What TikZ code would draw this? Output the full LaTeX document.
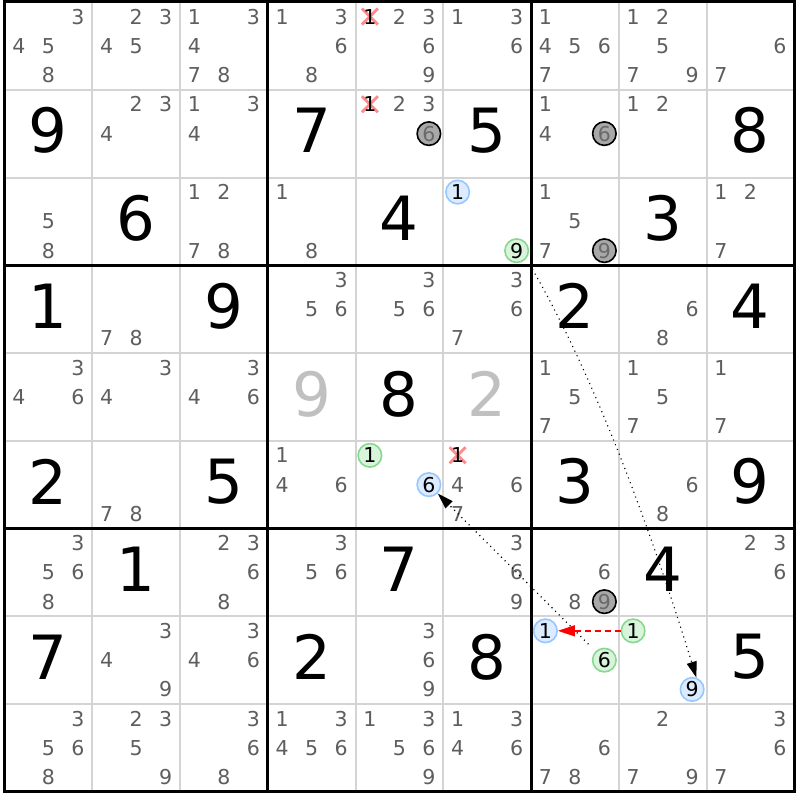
\documentclass[tikz,border=0pt]{standalone}
\usepackage{fontspec}
\setmainfont{DejaVu Sans}
\usetikzlibrary{arrows.meta}
\definecolor{candgray}{HTML}{5E5E5E}
\definecolor{thingray}{HTML}{D4D4D4}
\definecolor{lightdig}{HTML}{C0C0C0}
\definecolor{xred}{HTML}{FF8A8A}
\definecolor{bfill}{HTML}{DCEBFF}
\definecolor{bdraw}{HTML}{95C8FF}
\definecolor{gfill}{HTML}{D8F5DB}
\definecolor{gdraw}{HTML}{88D890}
\definecolor{kfill}{HTML}{A8A8A8}
\definecolor{kdig}{HTML}{6A6A6A}
\newcommand\cpos[3]{\pgfmathsetmacro\px{4.5+87.75*#2+43.875+(mod(#3-1,3)-1)*29.5}\pgfmathsetmacro\py{2+87.75*#1+43.875+(int((#3-1)/3)-1)*29.3}}
\newcommand\cands[3]{\foreach \k in {#3}{\cpos{#1}{#2}{\k}\node[cand] (k#1#2\k) at (\px,\py) {\k};}}
\newcommand\bigd[4][black]{\pgfmathsetmacro\px{4.5+87.75*#3+43.875}\pgfmathsetmacro\py{2+87.75*#2+43.875-3}\node[bigdig,text=#1] (d#2#3) at (\px,\py) {#4};}
\newcommand\xcand[3]{\cpos{#1}{#2}{#3}\draw[xmark] (\px-8,\py-8) -- (\px+8,\py+8) (\px-8,\py+8) -- (\px+8,\py-8);\node[cand,text=black] (x#1#2) at (\px,\py) {#3};}
\newcommand\circd[5]{\cpos{#2}{#3}{#4}\node[#1] (#5) at (\px,\py) {#4};}
\begin{document}
\begin{tikzpicture}[x=1pt,y=-1pt,
  cand/.style={font=\fontsize{20.5}{20.5}\selectfont, text=candgray, inner sep=0pt},
  bigdig/.style={font=\fontsize{61}{61}\selectfont, inner sep=0pt},
  circ/.style={circle, minimum size=23.5pt, inner sep=0pt, line width=1.6pt, font=\fontsize{20.5}{20.5}\selectfont},
  bluec/.style={circ, fill=bfill, draw=bdraw, text=black},
  greenc/.style={circ, fill=gfill, draw=gdraw, text=black},
  grayc/.style={circ, fill=kfill, draw=black, text=kdig},
  xmark/.style={draw=xred, line width=2.8pt},
  thinline/.style={draw=thingray, line width=2pt},
  thickline/.style={draw=black, line width=3pt},
  dotlink/.style={black, line width=1.1pt, dash pattern=on 1.1pt off 4pt, -{Triangle[length=16pt,width=10pt]}},
  redlink/.style={red, line width=1.4pt, dash pattern=on 6pt off 4pt, -{Triangle[length=17pt,width=11pt]}}]
\useasboundingbox (0,0) rectangle (800,800);
\fill[white] (0,0) rectangle (800,800);
\foreach \i in {1,2,4,5,7,8}{
  \draw[thinline] (4.5+87.75*\i,2) -- (4.5+87.75*\i,791.75);
  \draw[thinline] (4.5,2+87.75*\i) -- (794.25,2+87.75*\i);
}
\foreach \i in {3,6}{
  \draw[thickline] (4.5+87.75*\i,2) -- (4.5+87.75*\i,791.75);
  \draw[thickline] (4.5,2+87.75*\i) -- (794.25,2+87.75*\i);
}
\draw[thickline] (4.5,2) rectangle (794.25,791.75);
% row 0
\cands{0}{0}{3,4,5,8}
\cands{0}{1}{2,3,4,5}
\cands{0}{2}{1,3,4,7,8}
\cands{0}{3}{1,3,6,8}
\xcand{0}{4}{1}
\cands{0}{4}{2,3,6,9}
\cands{0}{5}{1,3,6}
\cands{0}{6}{1,4,5,6,7}
\cands{0}{7}{1,2,5,7,9}
\cands{0}{8}{6,7}
% row 1
\bigd{1}{0}{9}
\cands{1}{1}{2,3,4}
\cands{1}{2}{1,3,4}
\bigd{1}{3}{7}
\xcand{1}{4}{1}
\cands{1}{4}{2,3}
\circd{grayc}{1}{4}{6}{ka}
\bigd{1}{5}{5}
\cands{1}{6}{1,4}
\circd{grayc}{1}{6}{6}{kb}
\cands{1}{7}{1,2}
\bigd{1}{8}{8}
% row 2
\cands{2}{0}{5,8}
\bigd{2}{1}{6}
\cands{2}{2}{1,2,7,8}
\cands{2}{3}{1,8}
\bigd{2}{4}{4}
\circd{bluec}{2}{5}{1}{bla}
\circd{greenc}{2}{5}{9}{gn}
\cands{2}{6}{1,5,7}
\circd{grayc}{2}{6}{9}{kc}
\bigd{2}{7}{3}
\cands{2}{8}{1,2,7}
% row 3
\bigd{3}{0}{1}
\cands{3}{1}{7,8}
\bigd{3}{2}{9}
\cands{3}{3}{3,5,6}
\cands{3}{4}{3,5,6}
\cands{3}{5}{3,6,7}
\bigd{3}{6}{2}
\cands{3}{7}{6,8}
\bigd{3}{8}{4}
% row 4
\cands{4}{0}{3,4,6}
\cands{4}{1}{3,4}
\cands{4}{2}{3,4,6}
\bigd[lightdig]{4}{3}{9}
\bigd{4}{4}{8}
\bigd[lightdig]{4}{5}{2}
\cands{4}{6}{1,5,7}
\cands{4}{7}{1,5,7}
\cands{4}{8}{1,7}
% row 5
\bigd{5}{0}{2}
\cands{5}{1}{7,8}
\bigd{5}{2}{5}
\cands{5}{3}{1,4,6}
\circd{greenc}{5}{4}{1}{gla}
\circd{bluec}{5}{4}{6}{bs}
\xcand{5}{5}{1}
\cands{5}{5}{4,6,7}
\bigd{5}{6}{3}
\cands{5}{7}{6,8}
\bigd{5}{8}{9}
% row 6
\cands{6}{0}{3,5,6,8}
\bigd{6}{1}{1}
\cands{6}{2}{2,3,6,8}
\cands{6}{3}{3,5,6}
\bigd{6}{4}{7}
\cands{6}{5}{3,6,9}
\cands{6}{6}{6,8}
\circd{grayc}{6}{6}{9}{kd}
\bigd{6}{7}{4}
\cands{6}{8}{2,3,6}
% row 7
\bigd{7}{0}{7}
\cands{7}{1}{3,4,9}
\cands{7}{2}{3,4,6}
\bigd{7}{3}{2}
\cands{7}{4}{3,6,9}
\bigd{7}{5}{8}
\circd{bluec}{7}{6}{1}{blb}
\circd{greenc}{7}{6}{6}{gs}
\circd{greenc}{7}{7}{1}{glb}
\circd{bluec}{7}{7}{9}{bn}
\bigd{7}{8}{5}
% row 8
\cands{8}{0}{3,5,6,8}
\cands{8}{1}{2,3,5,9}
\cands{8}{2}{3,6,8}
\cands{8}{3}{1,3,4,5,6}
\cands{8}{4}{1,3,5,6,9}
\cands{8}{5}{1,3,4,6}
\cands{8}{6}{6,7,8}
\cands{8}{7}{2,7,9}
\cands{8}{8}{3,6,7}
% links
\draw[dotlink, shorten <=7pt] (gn.-40) .. controls (602,388) and (660,560) .. (bn.70);
\draw[dotlink, shorten <=10pt] (gs) -- (bs);
\draw[redlink] (glb) -- (blb);
\end{tikzpicture}
\end{document}
